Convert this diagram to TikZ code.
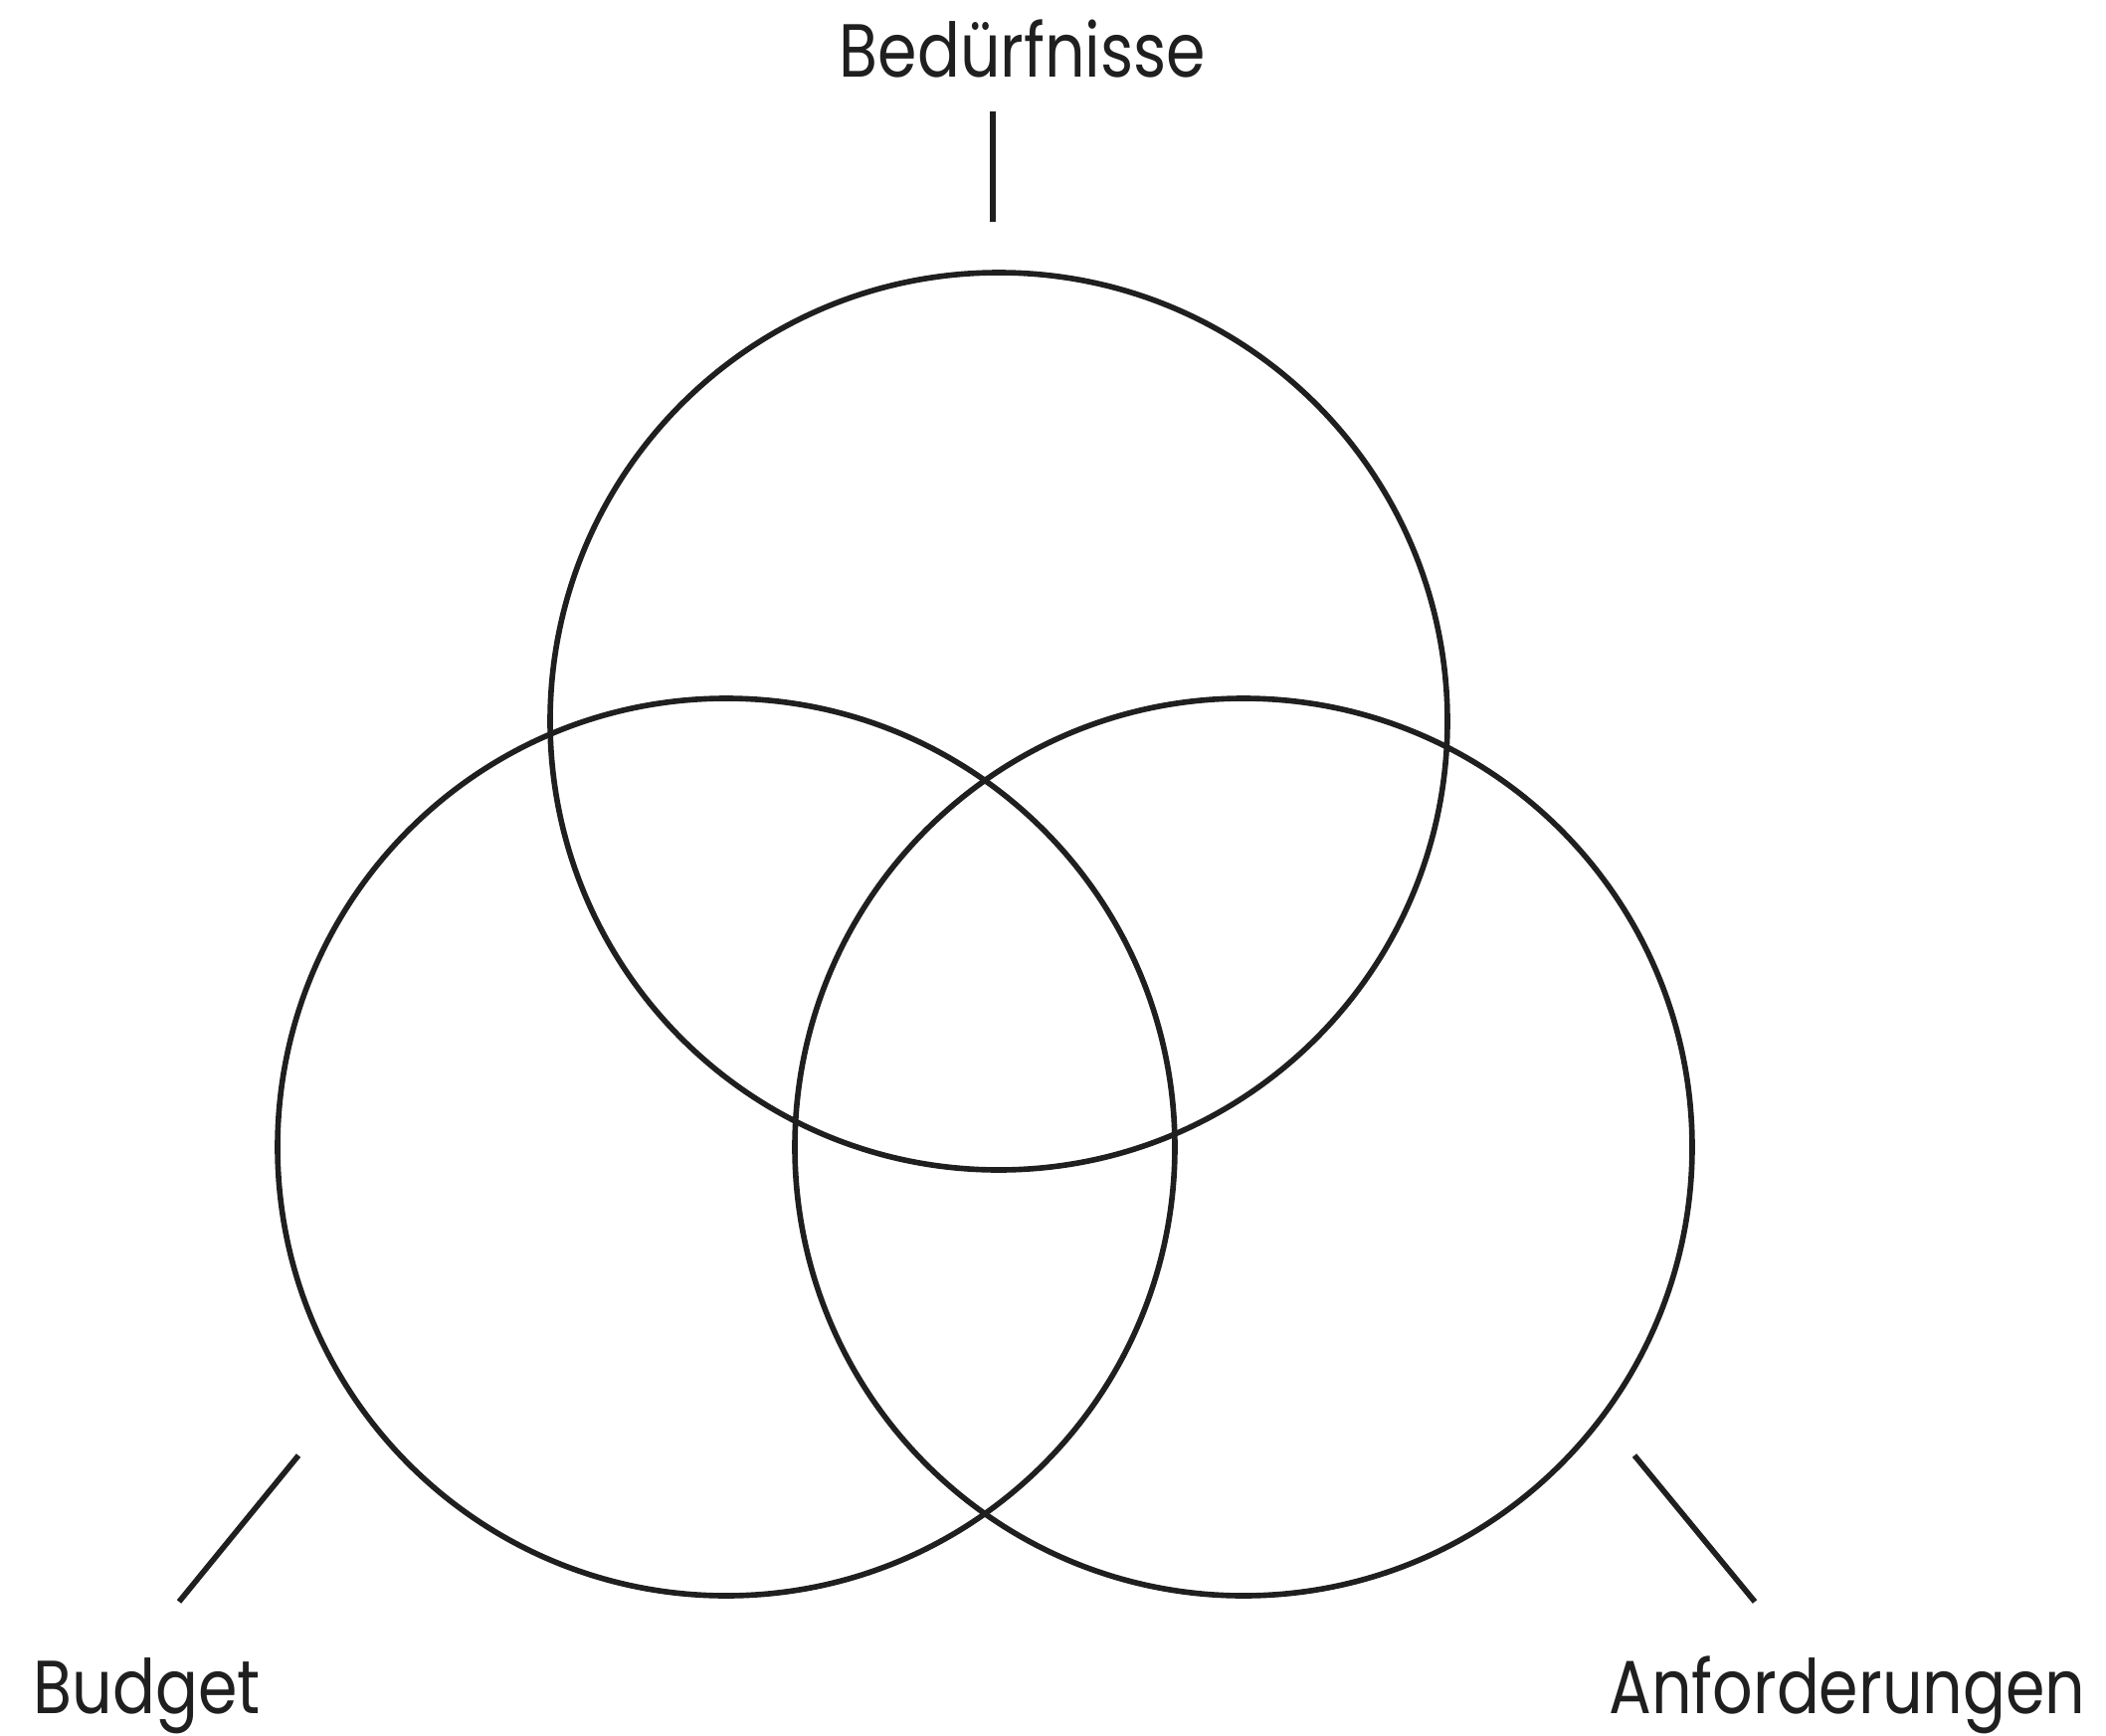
\documentclass[tikz,border=0pt]{standalone}
\usepackage{fontspec}
\setmainfont[FakeStretch=0.84]{Poppins}
\tikzset{
	ring/.style={draw=black!88,line width=1.6pt},
	tick/.style={draw=black!88,line width=1.6pt},
	lbl/.style={inner sep=0pt,font=\fontsize{21.5}{26}\selectfont,text=black!88}
}
\begin{document}
\begin{tikzpicture}[x=0.01cm,y=-0.01cm]
	\useasboundingbox (0,0) rectangle (2117,1745);
	\draw[ring] (1004,725) circle (451);
	\draw[ring] (730,1153) circle (451);
	\draw[ring] (1250,1153) circle (451);
	\node[lbl,anchor=base] (bed) at (1028,77) {Bedürfnisse};
	\node[lbl,anchor=base west] (bud) at (33,1722) {Budget};
	\node[lbl,anchor=base east] (anf) at (2097,1722) {Anforderungen};
	\coordinate (bed1) at (998,112);
	\coordinate (bed2) at (998,223);
	\coordinate (bud1) at (300,1463);
	\coordinate (bud2) at (180,1610);
	\coordinate (anf1) at (1643,1463);
	\coordinate (anf2) at (1764,1610);
	\draw[tick] (bed1) -- (bed2);
	\draw[tick] (bud1) -- (bud2);
	\draw[tick] (anf1) -- (anf2);
\end{tikzpicture}
\end{document}
